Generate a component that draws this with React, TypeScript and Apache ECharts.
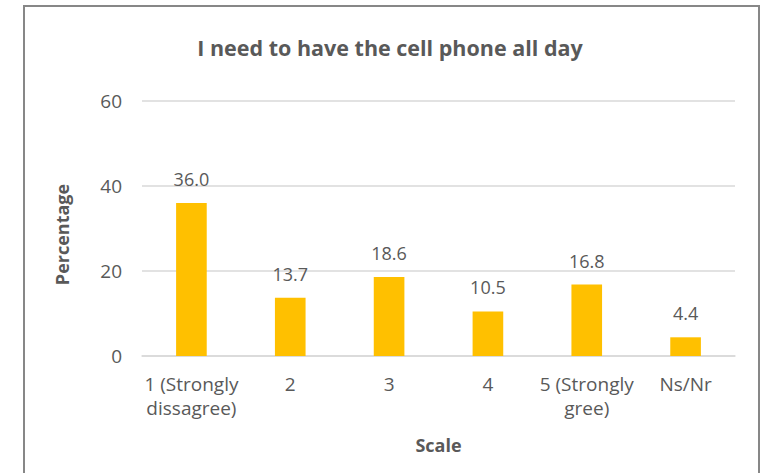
import React, { useEffect, useRef } from "react";
import * as echarts from "echarts";

const categories = ["1 (Strongly\ndissagree)", "2", "3", "4", "5 (Strongly\ngree)", "Ns/Nr"];
const values = [36.0, 13.7, 18.6, 10.5, 16.8, 4.4];
const titleText = "I need to have the cell phone all day";
const yName = "Percentage";
const xName = "Scale";

const FONT = "'Open Sans', 'Liberation Sans', sans-serif";
const TXT = "#595959";

export default function App() {
  const ref = useRef<HTMLDivElement>(null);
  useEffect(() => {
    document.body.style.margin = "0";
    const chart = echarts.init(ref.current!, null, { renderer: "svg" });
    chart.setOption({
      animation: false,
      backgroundColor: "#ffffff",
      textStyle: { fontFamily: FONT },
      title: {
        text: titleText,
        left: 385,
        textAlign: "center",
        top: 31,
        textStyle: { fontFamily: FONT, fontSize: 21.5, fontWeight: "bold", color: TXT },
      },
      graphic: [
        {
          type: "rect",
          shape: { x: 24, y: 6, width: 735, height: 480 },
          style: { fill: "none", stroke: "#878787", lineWidth: 2 },
          silent: true,
        },
      ],
      grid: { left: 142, right: 27, top: 101, bottom: 117 },
      xAxis: {
        type: "category",
        data: categories,
        name: xName,
        nameLocation: "middle",
        nameGap: 80,
        nameTextStyle: { fontFamily: FONT, fontSize: 18, fontWeight: "bold", color: TXT },
        axisLine: { lineStyle: { color: "#d9d9d9", width: 1.5 } },
        axisTick: { show: false },
        axisLabel: { color: TXT, fontSize: 19, fontFamily: FONT, margin: 16, lineHeight: 24, interval: 0 },
      },
      yAxis: {
        type: "value",
        min: 0,
        max: 60,
        interval: 20,
        name: yName,
        nameLocation: "middle",
        nameGap: 71,
        nameRotate: 90,
        nameTextStyle: { fontFamily: FONT, fontSize: 18, fontWeight: "bold", color: TXT, padding: [0, 12, 0, 0] },
        axisLine: { show: false },
        axisTick: { show: false },
        axisLabel: { color: TXT, fontSize: 19, fontFamily: FONT, margin: 20 },
        splitLine: { lineStyle: { color: "#d9d9d9", width: 1.5 } },
      },
      series: [
        {
          type: "bar",
          data: values,
          barWidth: "31%",
          itemStyle: { color: "#FFC000" },
          label: {
            show: true,
            position: "top",
            distance: 15,
            color: TXT,
            fontSize: 18,
            fontFamily: FONT,
            formatter: (p: any) => p.value.toFixed(1),
          },
        },
      ],
    });
    return () => chart.dispose();
  }, []);
  return <div ref={ref} style={{ width: 762, height: 473 }} />;
}
